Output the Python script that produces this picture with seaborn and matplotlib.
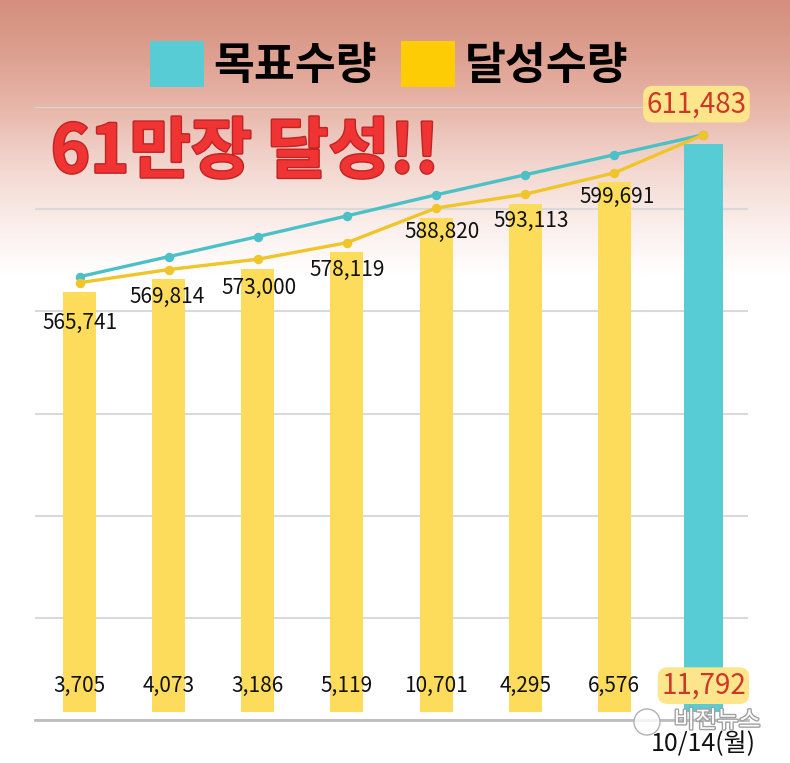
import numpy as np
import pandas as pd
import matplotlib
matplotlib.use("Agg")
import matplotlib.pyplot as plt
import matplotlib.patheffects as pe
import matplotlib.transforms as mtransforms
from matplotlib.patches import Patch, Circle
from matplotlib.colors import LinearSegmentedColormap
import seaborn as sns

# ---------------- data ----------------
categories = ["d1", "d2", "d3", "d4", "d5", "d6", "d7", "d8"]
tick_labels = ["", "", "", "", "", "", "", "10/14(월)"]
cumulative = [565741, 569814, 573000, 578119, 588820, 593113, 599691, 611483]
daily = [3705, 4073, 3186, 5119, 10701, 4295, 6576, 11792]
target = [567600, 573800, 580000, 586400, 592900, 599100, 605300, 611483]
legend_labels = ["목표수량", "달성수량"]
title_text = "61만장 달성!!"
watermark_text = "비전뉴스"

# ---------------- style ----------------
CYAN_BAR = "#57ccd5"
CYAN_LINE = "#4cc0c7"
YELLOW_BAR = "#fddc5c"
YELLOW_LINE = "#f0c529"
YELLOW_LEG = "#fecc05"
RED_TXT = "#cf3626"
HIGHLIGHT = "#fde58c"

sns.set_theme(style="white")
plt.rcParams["font.family"] = ["Noto Sans CJK KR", "DejaVu Sans"]

W, H = 790, 763
fig = plt.figure(figsize=(W / 100, H / 100), dpi=100)

# background gradient
bg = fig.add_axes([0, 0, 1, 1], zorder=-10)
grad = LinearSegmentedColormap.from_list(
    "bg",
    [(0.0, "#d48f7d"), (0.08, "#dfa393"), (0.15, "#e9bbaf"),
     (0.22, "#f3d8d1"), (0.30, "#fbf0ed"), (0.36, "#ffffff"), (1.0, "#ffffff")])
bg.imshow(np.linspace(0, 1, H).reshape(-1, 1), aspect="auto", cmap=grad,
          extent=[0, 1, 0, 1], origin="upper")
bg.set_axis_off()

# main axes (bars)
ax = fig.add_axes([35 / W, 1 - 720 / H, (748 - 35) / W, (720 - 107) / H])
ax.patch.set_alpha(0)

df = pd.DataFrame({"cat": categories, "cum": cumulative,
                   "daily": daily, "target": target})
bar_pal = {c: (CYAN_BAR if i == len(categories) - 1 else YELLOW_BAR)
           for i, c in enumerate(categories)}
sns.barplot(data=df, x="cat", y="cum", hue="cat", palette=bar_pal,
            width=0.37, saturation=1, legend=False, ax=ax, zorder=2,
            edgecolor="none", linewidth=0)

ylo, yhi = 433500, 623000
ax.set_ylim(ylo, yhi)
base = 435950
for i, p in enumerate(ax.patches):
    top = p.get_y() + p.get_height()
    p.set_y(base)
    p.set_height(top - base)
    if i == len(ax.patches) - 1:
        cx = p.get_x() + p.get_width() / 2
        p.set_width(0.43)
        p.set_x(cx - 0.215)

ax.set_yticks(np.linspace(ylo, yhi, 7))
ax.set_yticklabels([])
ax.yaxis.grid(True, color="#d9d9d9", linewidth=1.5, zorder=0)
ax.set_axisbelow(True)
ax.tick_params(axis="both", length=0)
ax.set_xticks(range(len(categories)))
ax.set_xticklabels(tick_labels, fontsize=18, color="#111111")
ax.tick_params(axis="x", pad=8)
ax.set_xlabel("")
ax.set_ylabel("")
for s in ["left", "right", "top"]:
    ax.spines[s].set_visible(False)
ax.spines["bottom"].set_color("#bdbdbd")
ax.spines["bottom"].set_linewidth(2)

# daily labels
blend = mtransforms.blended_transform_factory(ax.transData, ax.transAxes)
for i, v in enumerate(daily):
    last = i == len(daily) - 1
    ax.text(i, 0.056, f"{v:,}", transform=blend, ha="center", va="center",
            fontsize=20 if last else 15, color=RED_TXT if last else "#111111",
            zorder=5,
            bbox=dict(boxstyle="round,pad=0.12,rounding_size=0.35",
                      fc=HIGHLIGHT, ec="none") if last else None)

# lines on a twin axis
ax2 = ax.twinx()
shift = 2940
ax2.set_ylim(ylo - shift, yhi - shift)
sns.pointplot(data=df, x="cat", y="target", color=CYAN_LINE, markers="o",
              linewidth=2.4, markersize=5, errorbar=None, ax=ax2)
sns.pointplot(data=df, x="cat", y="cum", color=YELLOW_LINE, markers="o",
              linewidth=2.4, markersize=5, errorbar=None, ax=ax2)
ax2.set_ylim(ylo - shift, yhi - shift)
ax2.set_axis_off()

label_offsets = [(0, -29), (-1, -20), (1, -21), (0, -20),
                 (4, -17), (4, -19), (2, -17), (-5, 22)]
for i, v in enumerate(cumulative):
    last = i == len(cumulative) - 1
    ax2.annotate(f"{v:,}", (i, v), xytext=label_offsets[i],
                 textcoords="offset points", ha="center", va="center",
                 fontsize=20 if last else 15,
                 color=RED_TXT if last else "#111111", zorder=6,
                 bbox=dict(boxstyle="round,pad=0.12,rounding_size=0.35",
                           fc=HIGHLIGHT, ec="none") if last else None)

# title
fig.text(245 / W, 1 - 153 / H, title_text, fontsize=48, fontweight="black",
         color="#f03333", ha="center", va="center",
         path_effects=[pe.withStroke(linewidth=2, foreground="#c02424")])

# legend
handles = [Patch(facecolor=CYAN_BAR, edgecolor="none"),
           Patch(facecolor=YELLOW_LEG, edgecolor="none")]
leg = fig.legend(handles, legend_labels, loc="center",
                 bbox_to_anchor=(389 / W, 1 - 65 / H), ncol=2, frameon=False,
                 prop={"size": 32, "weight": "bold"}, handlelength=1.22,
                 handleheight=1.22, handletextpad=0.2, columnspacing=0.55)
for t in leg.get_texts():
    t.set_color("#000000")

# watermark
fig.add_artist(Circle((647 / 100, (H - 722) / 100), 0.13,
                      transform=fig.dpi_scale_trans, facecolor="#ffffffcc",
                      edgecolor="#b0b0b0", linewidth=1, zorder=20))
fig.text(717 / W, 1 - 721 / H, watermark_text, fontsize=17, color="white",
         ha="center", va="center", zorder=21,
         path_effects=[pe.withStroke(linewidth=2, foreground="#a0a0a0")])

fig.savefig("out.png", dpi=100)
